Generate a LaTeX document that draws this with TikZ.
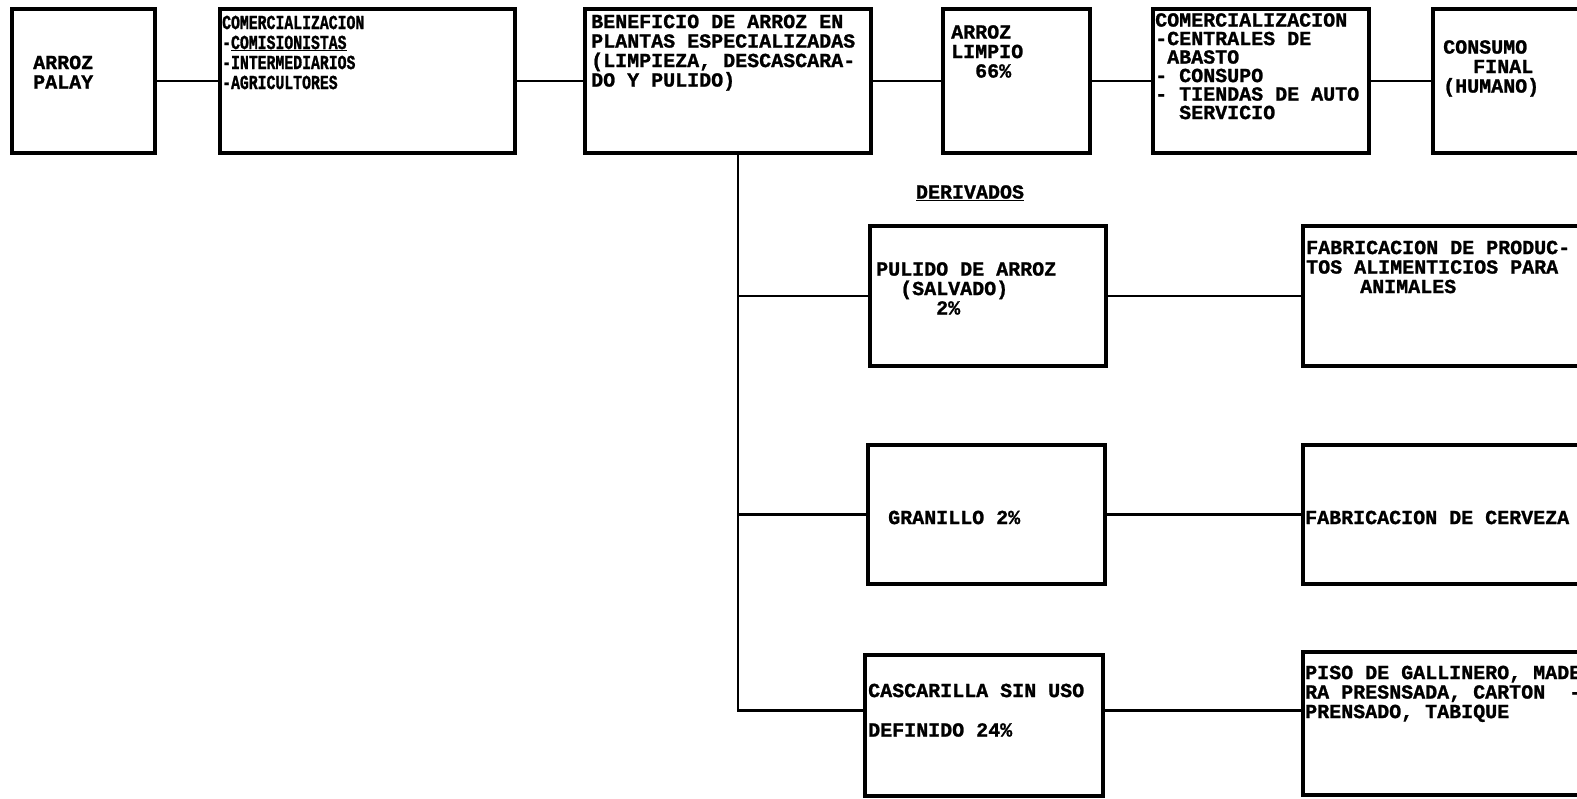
\documentclass[tikz,border=0pt]{standalone}
\usepackage{fontspec}
\setmonofont{Liberation Mono}[BoldFeatures={FakeBold=1.2}]
\newfontfamily\tightmono{Liberation Mono}[FakeStretch=0.74, BoldFeatures={FakeBold=1.2}]
\usetikzlibrary{positioning}

\begin{document}
\begin{tikzpicture}[
  x=1pt, y=1pt,
  box/.style={draw, line width=3.2pt, outer sep=0pt, inner sep=0pt, anchor=north west},
  txt/.style={inner sep=0pt, align=left, font=\ttfamily\bfseries\fontsize{20}{19.5}\selectfont},
  tight/.style={txt, font=\tightmono\bfseries\fontsize{20}{20}\selectfont},
  link/.style={line width=2.8pt}
]
  \useasboundingbox (0,0) rectangle (1577,-799);
  \clip (0,0) rectangle (1577,-799);

  % Cadena principal
  \node[box, minimum width=143pt, minimum height=144pt] (palay) at (12,-9) {};
  \node[box, minimum width=295pt, minimum height=144pt] (com1) at (220,-9) {};
  \node[box, minimum width=286pt, minimum height=144pt] (benef) at (585,-9) {};
  \node[box, minimum width=147pt, minimum height=144pt] (limpio) at (943,-9) {};
  \node[box, minimum width=216pt, minimum height=144pt] (com2) at (1153,-9) {};
  \node[box, minimum width=170pt, minimum height=144pt] (consumo) at (1433,-9) {};

  \node[txt, below right=46.5pt and 21pt of palay.north west] (palay-t) {ARROZ\\PALAY};
  \node[tight, below right=6.5pt and 2pt of com1.north west] (com1-t)
    {COMERCIALIZACION\\-\underline{COMISIONISTAS}\\-INTERMEDIARIOS\\-AGRICULTORES};
  \node[txt, below right=5.5pt and 6pt of benef.north west] (benef-t)
    {BENEFICIO DE ARROZ EN\\PLANTAS ESPECIALIZADAS\\(LIMPIEZA, DESCASCARA-\\DO Y PULIDO)};
  \node[txt, below right=16pt and 8pt of limpio.north west] (limpio-t)
    {ARROZ\\LIMPIO\\\hspace*{24pt}66\%};
  \node[txt, below right=4pt and 2pt of com2.north west, font=\ttfamily\bfseries\fontsize{20}{18.5}\selectfont] (com2-t)
    {COMERCIALIZACION\\-CENTRALES DE\\\hspace*{12pt}ABASTO\\- CONSUPO\\- TIENDAS DE AUTO\\\hspace*{24pt}SERVICIO};
  \node[txt, below right=31pt and 10pt of consumo.north west] (consumo-t)
    {CONSUMO\\\hspace*{30pt}FINAL\\(HUMANO)};

  \draw[link] (palay) -- (com1);
  \draw[link] (com1) -- (benef);
  \draw[link] (benef) -- (limpio);
  \draw[link] (limpio) -- (com2);
  \draw[link] (com2) -- (consumo);

  % Derivados
  \node[txt] (deriv) at (970,-193) {\underline{DERIVADOS}};

  \node[box, minimum width=236pt, minimum height=140pt] (pulido) at (870,-226) {};
  \node[box, minimum width=300pt, minimum height=140pt] (animales) at (1303,-226) {};
  \node[box, minimum width=237pt, minimum height=139pt] (granillo) at (868,-445) {};
  \node[box, minimum width=300pt, minimum height=139pt] (cerveza) at (1303,-445) {};
  \node[box, minimum width=238pt, minimum height=141pt] (cascarilla) at (865,-655) {};
  \node[box, minimum width=300pt, minimum height=143pt] (piso) at (1303,-652) {};

  \node[txt, below right=36pt and 6pt of pulido.north west] (pulido-t)
    {PULIDO DE ARROZ\\\hspace*{24pt}(SALVADO)\\\hspace*{60pt}2\%};
  \node[txt, below right=14.5pt and 3pt of animales.north west] (animales-t)
    {FABRICACION DE PRODUC-\\TOS ALIMENTICIOS PARA\\\hspace*{54pt}ANIMALES};
  \node[txt, below right=65.5pt and 20pt of granillo.north west] (granillo-t) {GRANILLO 2\%};
  \node[txt, below right=65.5pt and 2pt of cerveza.north west] (cerveza-t) {FABRICACION DE CERVEZA};
  \node[txt, below right=28.5pt and 3pt of cascarilla.north west] (cascarilla-t)
    {CASCARILLA SIN USO\\[20pt]DEFINIDO 24\%};
  \node[txt, below right=13.5pt and 2pt of piso.north west] (piso-t)
    {PISO DE GALLINERO, MADE\\RA PRESNSADA, CARTON\hspace*{24pt}-\\PRENSADO, TABIQUE};

  \coordinate (trunk) at ([xshift=10pt]benef.south);
  \coordinate (casin) at ([yshift=15pt]cascarilla.west);
  \draw[link] (trunk) |- (casin);
  \draw[link] (trunk |- pulido.west) -- (pulido.west);
  \draw[link] (trunk |- granillo.west) -- (granillo.west);
  \draw[link] (pulido) -- (animales);
  \draw[link] (granillo) -- (cerveza);
  \draw[link] (cascarilla.east |- casin) -- (piso.west |- casin);
\end{tikzpicture}
\end{document}
